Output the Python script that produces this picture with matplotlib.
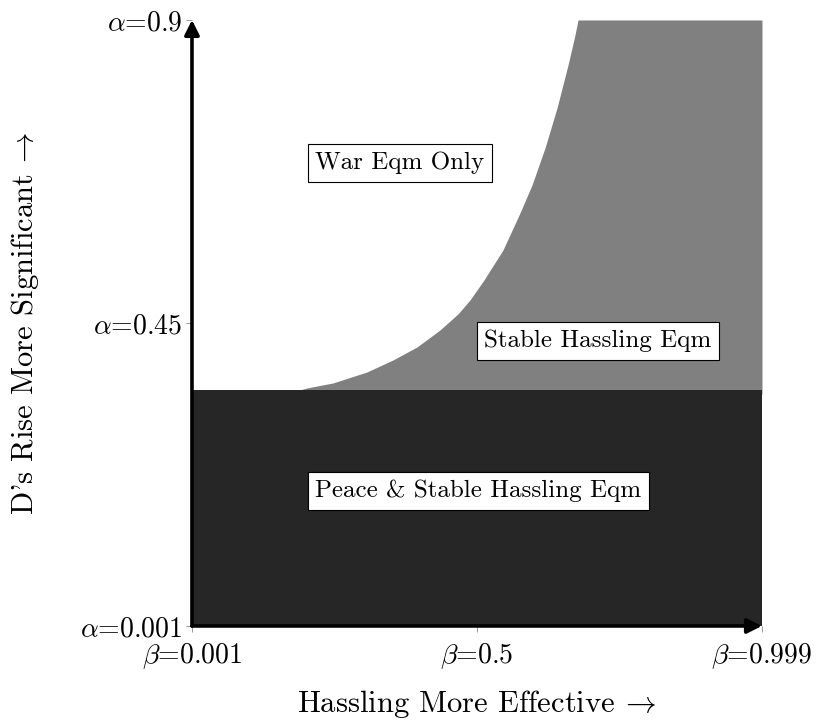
import matplotlib
matplotlib.use("Agg")
import matplotlib.pyplot as plt

plt.rcParams['font.family'] = ['cmr10', 'DejaVu Serif']
plt.rcParams['mathtext.fontset'] = 'cm'
plt.rcParams['axes.unicode_minus'] = False

# parameter ranges
beta_range = [0.001, 0.999]
alpha_range = [0.001, 0.9]

# peace region upper edge (alpha)
peace_alpha = 0.351

# boundary between war-only and hassling regions
boundary_beta = [0.160, 0.190, 0.2024, 0.2479, 0.3074, 0.3529, 0.3950, 0.4352, 0.4667,
                 0.4877, 0.5123, 0.5455, 0.5753, 0.5963, 0.6191, 0.6401, 0.6594,
                 0.6716, 0.6769]
boundary_alpha = [0.345, 0.3511, 0.3541, 0.3615, 0.3778, 0.3956, 0.4149, 0.4401, 0.4639,
                  0.4846, 0.5143, 0.5588, 0.6137, 0.6552, 0.7101, 0.7694, 0.8332,
                  0.8777, 0.900]

x_ticks = [0.001, 0.5, 0.999]
x_ticklabels = [r'$\beta$=0.001', r'$\beta$=0.5', r'$\beta$=0.999']
y_ticks = [0.001, 0.45, 0.9]
y_ticklabels = [r'$\alpha$=0.001', r'$\alpha$=0.45', r'$\alpha$=0.9']

fig = plt.figure(figsize=(8.18, 7.21), dpi=100)
ax = fig.add_axes([0.2347, 0.1318, 0.6968, 0.8405])

# regions
ax.fill_betweenx(boundary_alpha, boundary_beta, beta_range[1], color='#808080', lw=0)
ax.fill_between(beta_range, alpha_range[0], peace_alpha, color='#262626', lw=0)

ax.set_xlim(beta_range)
ax.set_ylim(alpha_range)

for s in ax.spines.values():
    s.set_visible(False)

# axis arrows
arrow = dict(arrowstyle='-|>', lw=2.6, color='black', mutation_scale=22, shrinkA=0, shrinkB=0)
ax.annotate('', xy=(0, 1), xytext=(0, 0), xycoords='axes fraction', arrowprops=arrow)
ax.annotate('', xy=(1, 0), xytext=(0, 0), xycoords='axes fraction', arrowprops=arrow)

ax.set_xticks(x_ticks)
ax.set_xticklabels(x_ticklabels, fontsize=20)
ax.set_yticks(y_ticks)
ax.set_yticklabels(y_ticklabels, fontsize=20)
ax.tick_params(length=4, width=0.6, color='#888888', pad=3)
ax.tick_params(axis='x', pad=7)

ax.set_xlabel(r'Hassling More Effective $\!\rightarrow$', fontsize=22, labelpad=12)
ax.set_ylabel(r"D's Rise More Significant $\!\rightarrow$", fontsize=22, labelpad=28)

box = dict(boxstyle='square,pad=0.3', facecolor='white', edgecolor='black', lw=0.8)
ax.text(0.365, 0.688, 'War Eqm Only', fontsize=18, ha='center', va='center', bbox=box)
ax.text(0.712, 0.424, 'Stable Hassling Eqm', fontsize=18, ha='center', va='center', bbox=box)
ax.text(0.502, 0.201, 'Peace & Stable Hassling Eqm', fontsize=18, ha='center', va='center', bbox=box)

fig.savefig('out.png', dpi=100)
